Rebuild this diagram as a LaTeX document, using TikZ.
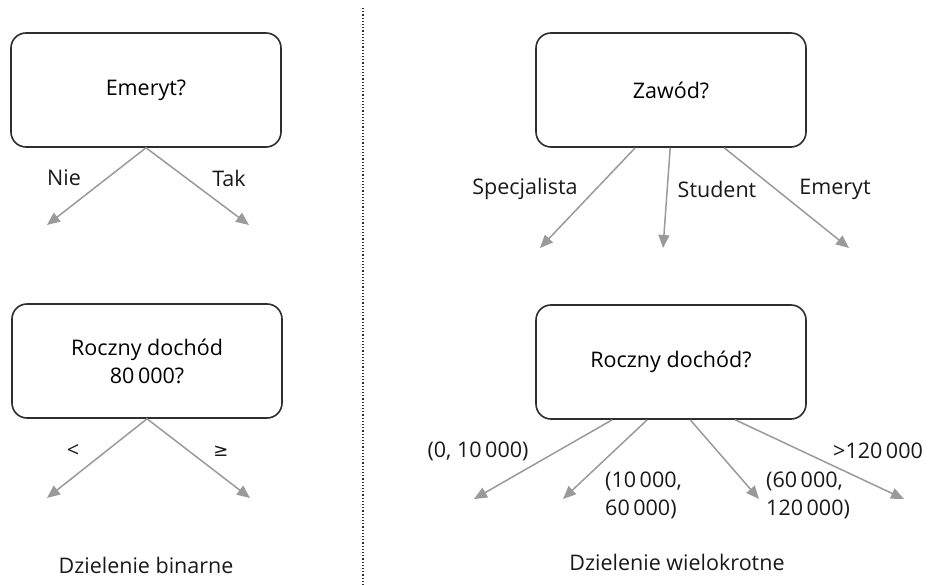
\documentclass[tikz,border=0pt]{standalone}
\usepackage{fontspec}
\setmainfont{Open Sans}
\newfontfamily\symfont{DejaVu Sans}
\usetikzlibrary{arrows.meta,calc}
\definecolor{arrowgray}{HTML}{9A9A9A}
\definecolor{boxline}{HTML}{2E2E2E}
\newcommand{\lbl}{\fontsize{21.5}{28}\selectfont}
\tikzset{
  qbox/.style={draw=boxline, line width=1.6pt, rounded corners=15pt, minimum width=270pt, minimum height=114pt, inner sep=0pt, align=center, font=\lbl},
  arr/.style={draw=arrowgray, line width=1.5pt, -{Triangle[length=13pt,width=11pt]}},
  lab/.style={inner sep=0pt, font=\lbl, text=black!90},
  labl/.style={lab, anchor=west, align=left},
}
\begin{document}
\begin{tikzpicture}[x=1pt,y=-1pt]
\useasboundingbox (0,0) rectangle (935,585);
\clip (0,0) rectangle (935,585);
% divider
\coordinate (dtop) at (363,8);
\coordinate (dbot) at (363,585);
\draw[boxline, line width=1.2pt, dash pattern=on 1.2pt off 2pt] (dtop) -- (dbot);

% binary split
\node[qbox] (b1) at (146,90) {Emeryt?};
\coordinate (t1l) at (47,225);
\coordinate (t1r) at (249,225);
\draw[arr] (b1.south) -- (t1l);
\draw[arr] (b1.south) -- (t1r);
\node[lab] (nie) at (64,178) {Nie};
\node[lab] (tak) at (229,178) {Tak};

\node[qbox] (b2) at (147,361) {Roczny dochód\\80\,000?};
\coordinate (t2l) at (47,498);
\coordinate (t2r) at (250,498);
\draw[arr] (b2.south) -- (t2l);
\draw[arr] (b2.south) -- (t2r);
\node[lab] (lt) at (73,451) {<};
\node[lab] (ge) at (221,451) {\symfont\fontsize{18}{20}\selectfont ≥};
\node[lab] (cap1) at (146,565) {Dzielenie binarne};

% multiway split
\node[qbox] (b3) at (671,90) {Zawód?};
\coordinate (s31) at ([xshift=100pt]b3.south west);
\coordinate (s32) at ([xshift=135pt]b3.south west);
\coordinate (s33) at ([xshift=189pt]b3.south west);
\coordinate (t31) at (540,248);
\coordinate (t32) at (663,248);
\coordinate (t33) at (849,248);
\draw[arr] (s31) -- (t31);
\draw[arr] (s32) -- (t32);
\draw[arr] (s33) -- (t33);
\node[lab] (spec) at (525,189) {Specjalista};
\node[lab] (stud) at (717,189) {Student};
\node[lab] (emer) at (835,189) {Emeryt};

\node[qbox] (b4) at (671,362) {Roczny dochód?};
\coordinate (s41) at ([xshift=77pt]b4.south west);
\coordinate (s42) at ([xshift=112pt]b4.south west);
\coordinate (s43) at ([xshift=155pt]b4.south west);
\coordinate (s44) at ([xshift=200pt]b4.south west);
\coordinate (t41) at (474,499);
\coordinate (t42) at (563,499);
\coordinate (t43) at (759,499);
\coordinate (t44) at (904,499);
\draw[arr] (s41) -- (t41);
\draw[arr] (s42) -- (t42);
\draw[arr] (s43) -- (t43);
\draw[arr] (s44) -- (t44);
\node[lab] (r1) at (478,451) {(0, 10\,000)};
\node[labl] (r2) at (605,495) {(10\,000,\\60\,000)};
\node[labl] (r3) at (766,495) {(60\,000,\\120\,000)};
\node[labl] (r4) at (833,451) {>120\,000};
\node[lab] (cap2) at (677,562) {Dzielenie wielokrotne};
\end{tikzpicture}
\end{document}
